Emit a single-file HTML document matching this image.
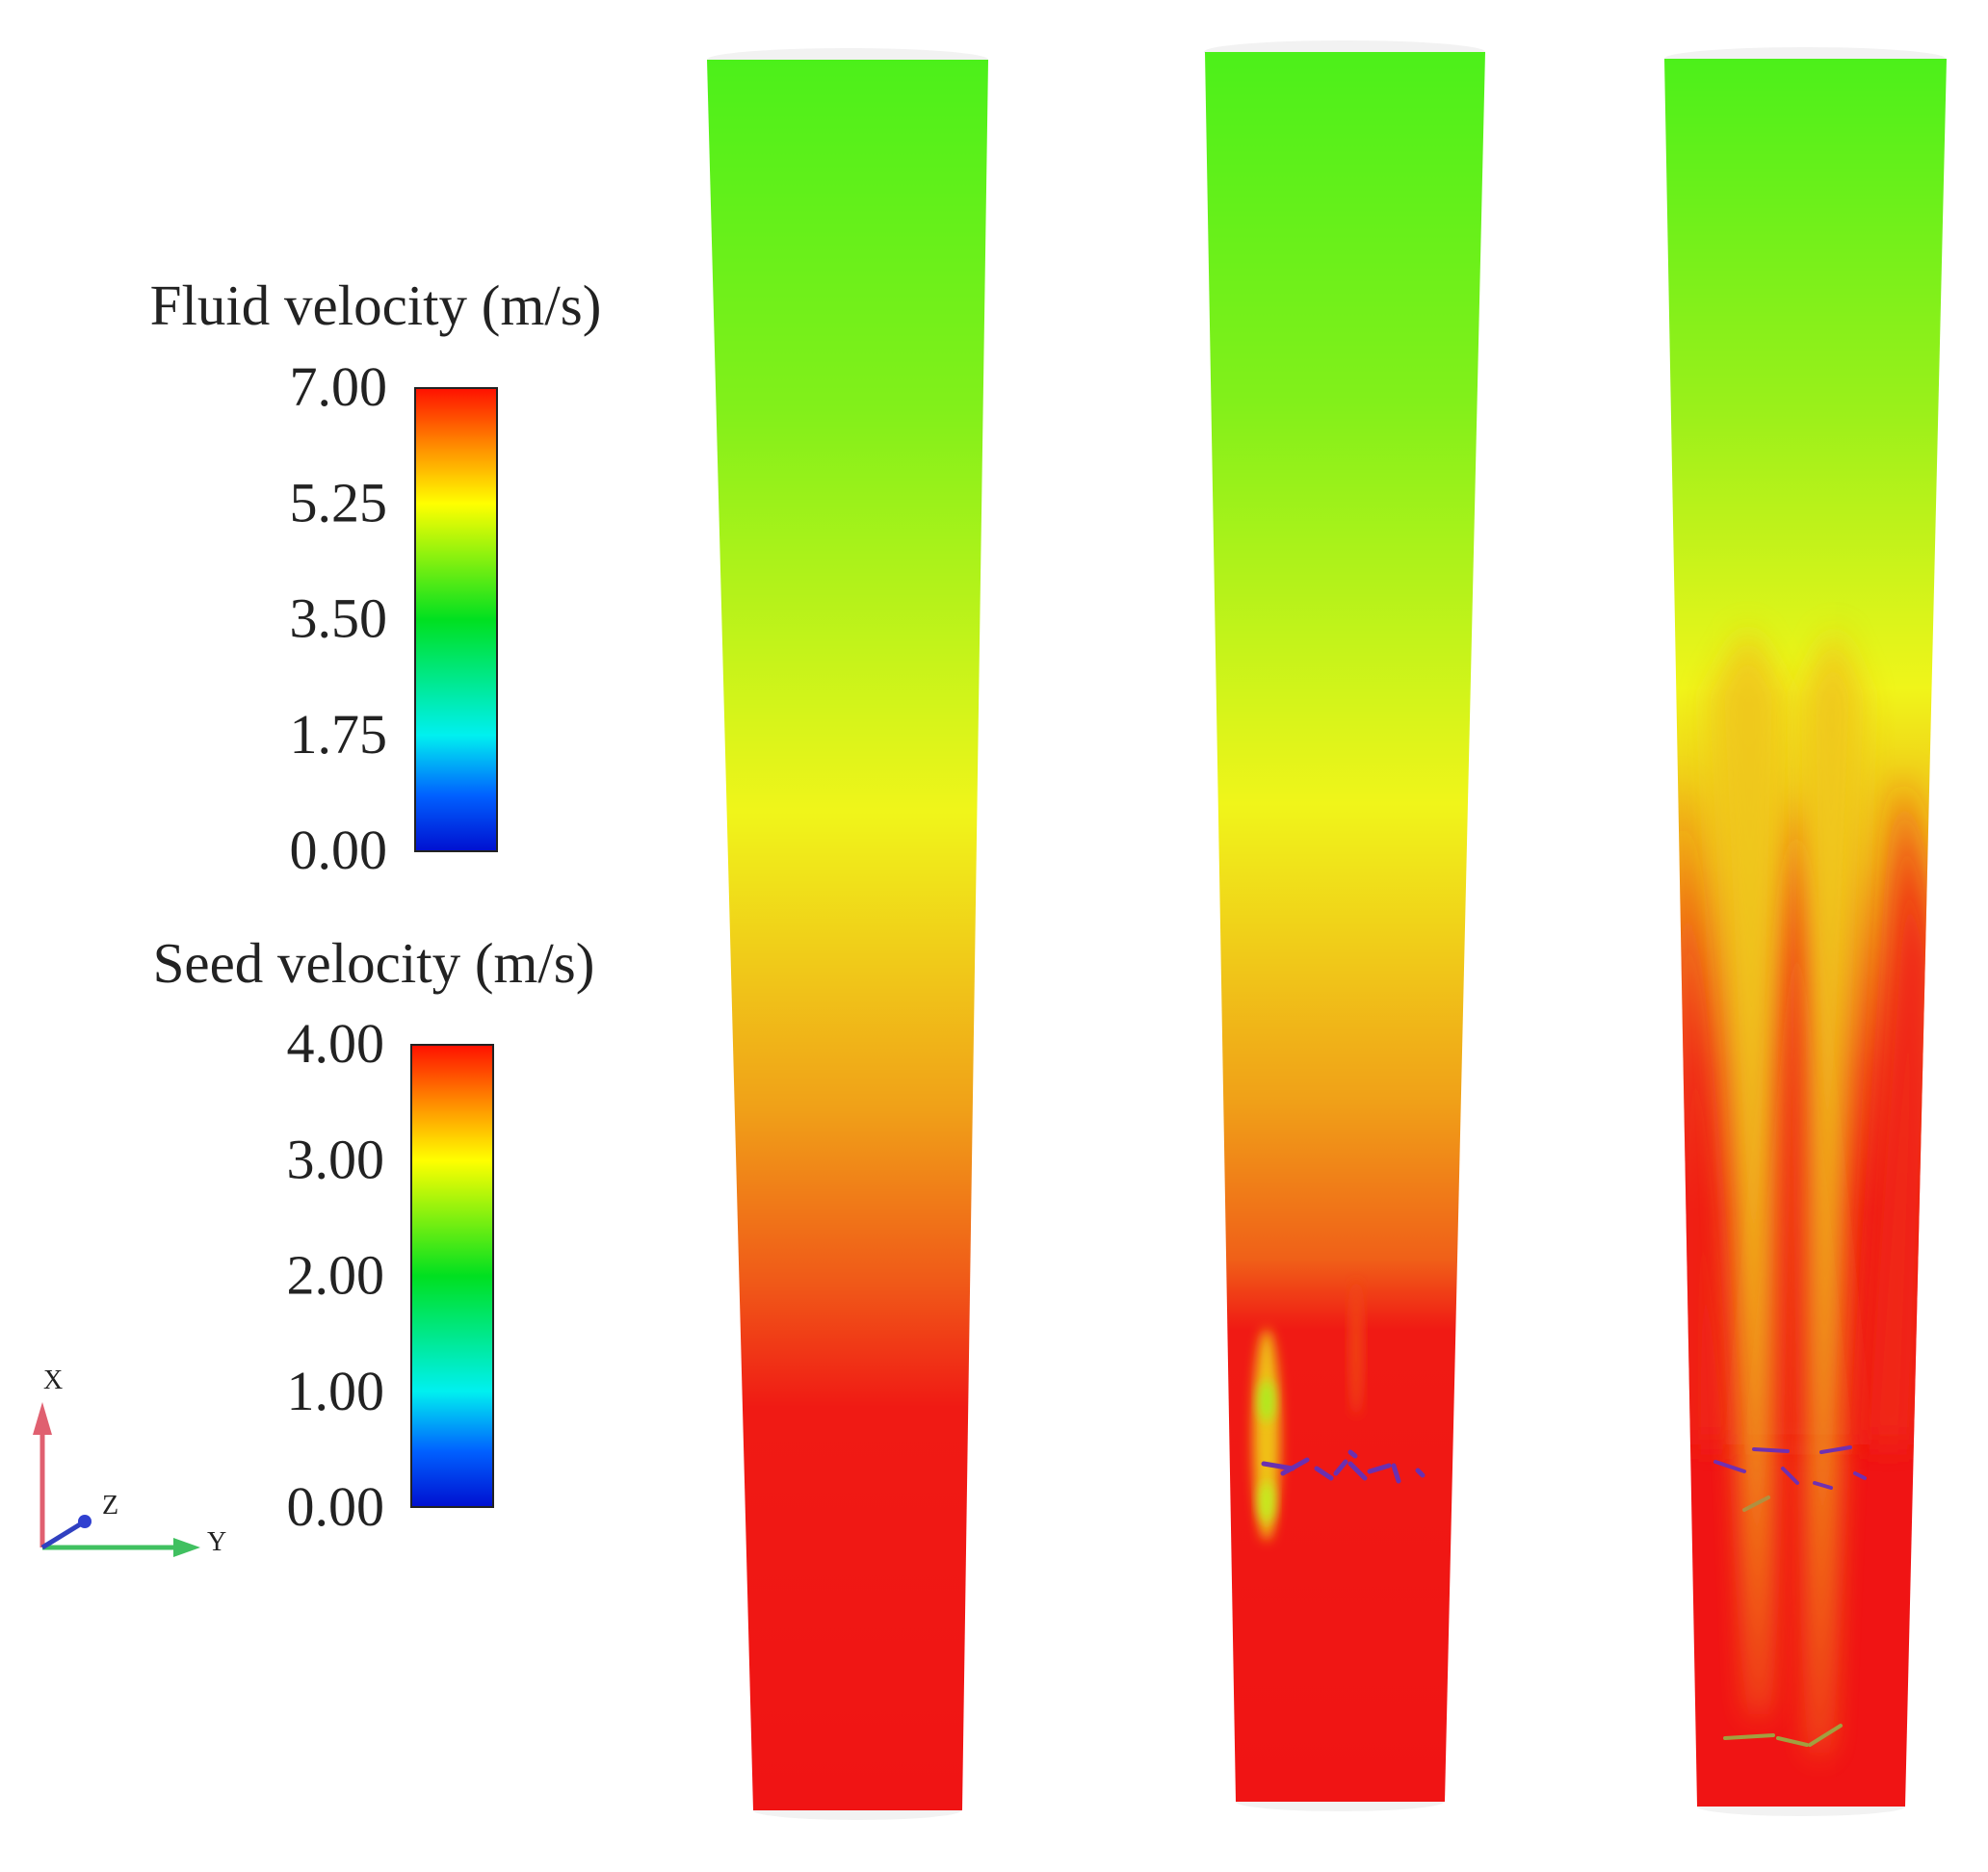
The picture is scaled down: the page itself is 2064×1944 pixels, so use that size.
<!DOCTYPE html>
<html><head><meta charset="utf-8"><style>
html,body{margin:0;padding:0;background:#fff;}
svg{display:block;}
text{font-family:"Liberation Serif",serif;fill:#222;}
</style></head><body>
<svg id="fig" width="2064" height="1944" viewBox="0 0 2064 1944" xmlns="http://www.w3.org/2000/svg">
<defs>
<linearGradient id="jet" x1="0" y1="1" x2="0" y2="0">
<stop offset="0" stop-color="#0010d0"/><stop offset="0.12" stop-color="#0060ff"/><stop offset="0.25" stop-color="#00f0f0"/><stop offset="0.5" stop-color="#00e020"/><stop offset="0.75" stop-color="#ffff00"/><stop offset="0.87" stop-color="#ff9000"/><stop offset="1" stop-color="#ff1000"/>
</linearGradient>
<linearGradient id="col1" x1="0" y1="0" x2="0" y2="1">
<stop offset="0" stop-color="#4cf01a"/><stop offset="0.2" stop-color="#82f01a"/><stop offset="0.43" stop-color="#f0f51a"/><stop offset="0.6" stop-color="#f0a018"/><stop offset="0.7" stop-color="#f05818"/><stop offset="0.77" stop-color="#f01a14"/><stop offset="1" stop-color="#f01414"/>
</linearGradient>
<linearGradient id="col2" x1="0" y1="0" x2="0" y2="1">
<stop offset="0" stop-color="#4cf01a"/><stop offset="0.2" stop-color="#82f01a"/><stop offset="0.43" stop-color="#f0f51a"/><stop offset="0.6" stop-color="#f0a018"/><stop offset="0.69" stop-color="#f06018"/><stop offset="0.73" stop-color="#f01a14"/><stop offset="1" stop-color="#f01414"/>
</linearGradient>
<linearGradient id="col3" x1="0" y1="0" x2="0" y2="1">
<stop offset="0" stop-color="#4cf01a"/><stop offset="0.2" stop-color="#9af01a"/><stop offset="0.36" stop-color="#f0f51a"/><stop offset="0.46" stop-color="#f0b018"/><stop offset="0.58" stop-color="#f04018"/><stop offset="0.66" stop-color="#f01414"/><stop offset="1" stop-color="#f01414"/>
</linearGradient>
<filter id="blur" x="-50%" y="-50%" width="200%" height="200%"><feGaussianBlur stdDeviation="16"/></filter>
<filter id="blur2" x="-50%" y="-50%" width="200%" height="200%"><feGaussianBlur stdDeviation="6"/></filter>
<clipPath id="clip3"><polygon points="1728,61 2021,61 1978,1876 1762,1876"/></clipPath>
<clipPath id="clip2"><polygon points="1251,54 1542,54 1500,1871 1283,1871"/></clipPath>
</defs>

<g>
<ellipse cx="880" cy="62" rx="146" ry="12" fill="#f2f2f2"/>
<ellipse cx="890" cy="1880" rx="108" ry="10" fill="#f2f2f2"/>
<polygon points="734,62 1026,62 999,1880 782,1880" fill="url(#col1)"/>
</g>
<g>
<ellipse cx="1396" cy="54" rx="146" ry="12" fill="#f2f2f2"/>
<ellipse cx="1391" cy="1871" rx="108" ry="10" fill="#f2f2f2"/>
<polygon points="1251,54 1542,54 1500,1871 1283,1871" fill="url(#col2)"/>
<g clip-path="url(#clip2)">
<ellipse cx="1315" cy="1490" rx="14" ry="110" fill="#f0c018" filter="url(#blur2)"/>
<ellipse cx="1315" cy="1455" rx="8" ry="22" fill="#a8f020" filter="url(#blur2)"/>
<ellipse cx="1315" cy="1560" rx="8" ry="22" fill="#c0f020" filter="url(#blur2)"/>
<ellipse cx="1408" cy="1400" rx="6" ry="70" fill="#f04a18" filter="url(#blur2)"/>
</g>
<g stroke="#6a30b0" stroke-width="5" stroke-linecap="round">
<line x1="1312" y1="1520" x2="1342" y2="1525"/><line x1="1332" y1="1530" x2="1357" y2="1516"/><line x1="1367" y1="1525" x2="1382" y2="1535"/><line x1="1387" y1="1530" x2="1397" y2="1518"/><line x1="1402" y1="1520" x2="1417" y2="1535"/><line x1="1422" y1="1528" x2="1442" y2="1522"/><line x1="1447" y1="1522" x2="1452" y2="1538"/><line x1="1472" y1="1527" x2="1477" y2="1532"/><line x1="1402" y1="1508" x2="1407" y2="1512"/>
</g>
</g>
<g>
<ellipse cx="1874" cy="61" rx="146" ry="12" fill="#f2f2f2"/>
<ellipse cx="1870" cy="1876" rx="108" ry="10" fill="#f2f2f2"/>
<polygon points="1728,61 2021,61 1978,1876 1762,1876" fill="url(#col3)"/>
<g clip-path="url(#clip3)">
<polygon points="1865,820 1935,1500 1800,1500" fill="#f01414" filter="url(#blur)"/>
<polygon points="1975,800 2010,1000 1990,1500 1930,1500" fill="#f02814" filter="url(#blur)"/>
<polygon points="1745,800 1800,1500 1755,1500" fill="#f02814" filter="url(#blur)"/>
<polygon points="1815,650 1855,720 1830,1780 1822,1780 1775,720" fill="#f0c81a" filter="url(#blur)" opacity="0.95"/>
<polygon points="1905,650 1935,720 1893,1820 1885,1820 1870,720" fill="#f0c81a" filter="url(#blur)" opacity="0.95"/>
</g>
<g stroke-width="4" stroke-linecap="round">
<line x1="1821" y1="1505" x2="1856" y2="1507" stroke="#7030b0"/><line x1="1891" y1="1508" x2="1921" y2="1503" stroke="#7030b0"/>
<line x1="1781" y1="1518" x2="1811" y2="1528" stroke="#7030b0"/><line x1="1851" y1="1525" x2="1866" y2="1540" stroke="#7030b0"/>
<line x1="1884" y1="1540" x2="1901" y2="1545" stroke="#7030b0"/><line x1="1926" y1="1530" x2="1936" y2="1535" stroke="#7030b0"/>
<line x1="1811" y1="1568" x2="1836" y2="1555" stroke="#b09040"/>
<line x1="1791" y1="1805" x2="1841" y2="1802" stroke="#a0a040"/><line x1="1846" y1="1805" x2="1876" y2="1812" stroke="#a0a040"/><line x1="1879" y1="1812" x2="1911" y2="1792" stroke="#a0a040"/>
</g>
</g>

<g>
<text x="390" y="337" font-size="59" text-anchor="middle">Fluid velocity (m/s)</text>
<rect x="431" y="403" width="85" height="481" fill="url(#jet)" stroke="#222" stroke-width="2"/>
<g id="ticks1"></g>
</g>
<g>
<text x="388" y="1020" font-size="59" text-anchor="middle">Seed velocity (m/s)</text>
<rect x="427" y="1085" width="85" height="480" fill="url(#jet)" stroke="#222" stroke-width="2"/>
<g id="ticks2"></g>
</g>

<g>
<line x1="44" y1="1607" x2="44" y2="1478" stroke="#e06070" stroke-width="5"/>
<polygon points="34,1490 54,1490 44,1456" fill="#e06070"/>
<text x="45" y="1442" font-size="28" fill="#f07080" font-family="Liberation Sans,sans-serif">X</text>
<line x1="44" y1="1607" x2="185" y2="1607" stroke="#40c060" stroke-width="5"/>
<polygon points="180,1597 180,1617 208,1607" fill="#40c060"/>
<text x="215" y="1610" font-size="28" fill="#a0e0b0" font-family="Liberation Sans,sans-serif">Y</text>
<line x1="44" y1="1607" x2="88" y2="1580" stroke="#3040c0" stroke-width="5"/>
<circle cx="88" cy="1580" r="7" fill="#3040d0"/>
<text x="106" y="1572" font-size="28" fill="#8090e0" font-family="Liberation Sans,sans-serif">Z</text>
</g>

<script>
const fluidTicks = ["0.00","1.75","3.50","5.25","7.00"];
const fluidValues = [0, 1.75, 3.5, 5.25, 7];
const seedTicks = ["0.00","1.00","2.00","3.00","4.00"];
const seedValues = [0, 1, 2, 3, 4];
function drawTicks(id, labels, vals, vmax, top, bottom, xr) {
  const g = document.getElementById(id);
  labels.forEach((lab, i) => {
    const y = bottom - (vals[i] / vmax) * (bottom - top);
    const t = document.createElementNS("http://www.w3.org/2000/svg", "text");
    t.setAttribute("x", xr);
    t.setAttribute("y", y + 20);
    t.setAttribute("font-size", "58");
    t.setAttribute("text-anchor", "end");
    t.textContent = lab;
    
    
    g.appendChild(t);
  });
}
drawTicks("ticks1", fluidTicks, fluidValues, 7, 401, 882, 402);
drawTicks("ticks2", seedTicks, seedValues, 4, 1083, 1564, 399);
</script>
</svg>
</body></html>
